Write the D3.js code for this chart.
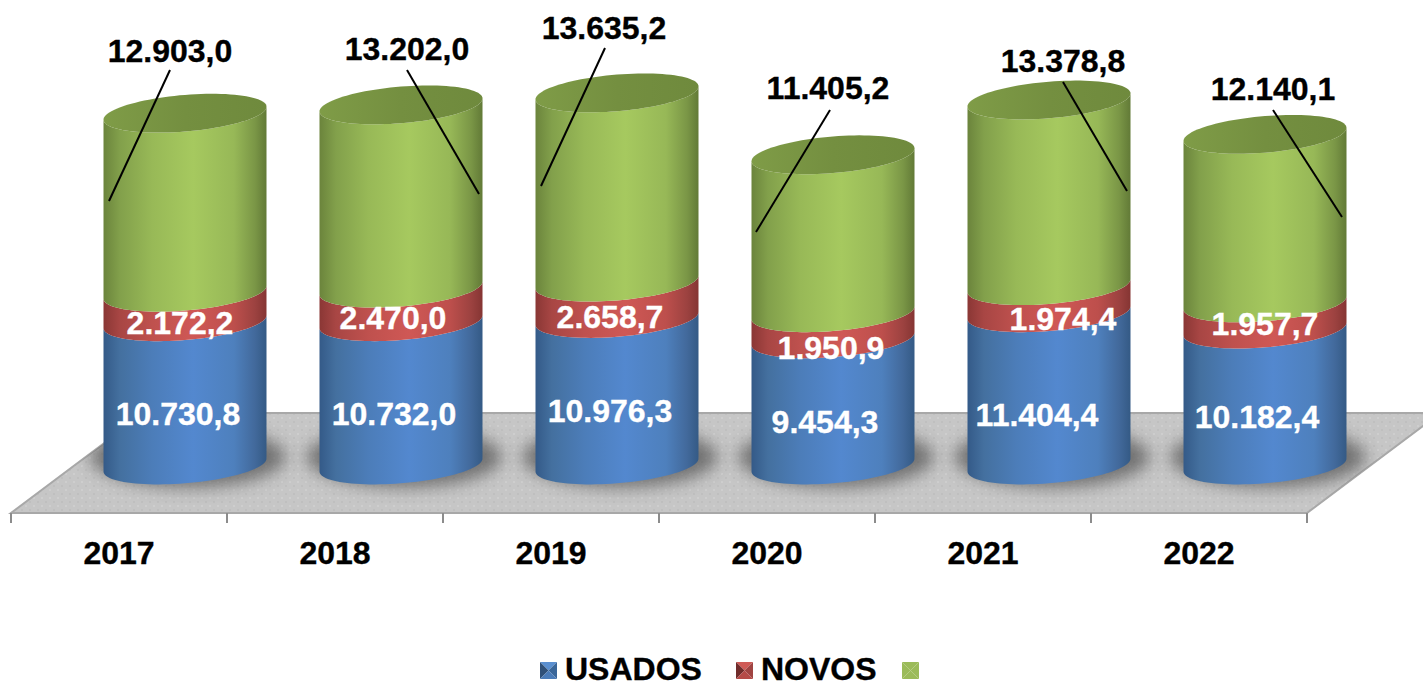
<!DOCTYPE html>
<html><head><meta charset="utf-8">
<script src="https://cdn.jsdelivr.net/npm/d3@7"></script>
<style>html,body{margin:0;background:#fff;overflow:hidden}text{font-family:"Liberation Sans",Arial,sans-serif;font-weight:bold;stroke:currentColor;stroke-width:.35px}</style>
</head><body><svg id="c" width="1423" height="681"></svg>
<script>
const years=["2017","2018","2019","2020","2021","2022"];
const usados=[10730.8,10732.0,10976.3,9454.3,11404.4,10182.4];
const novos=[2172.2,2470.0,2658.7,1950.9,1974.4,1957.7];
const terceira=[12903.0,13202.0,13635.2,11405.2,13378.8,12140.1];
const legendNames=["USADOS","NOVOS",""];
const fmt=v=>{const [a,b]=v.toFixed(1).split(".");return a.replace(/\B(?=(\d{3})+$)/g,".")+","+b;};

// layout
const W=1423,H=681;
const floorFront=513,floorBack=413;
const x=d3.scaleBand().domain(years).range([11,1307]);
const y=d3.scaleLinear().domain([0,12000,30000]).range([465,304.8,55]);
const depth=66,rx=81.5,ry=18.3,tilt=6.5;
const cx=d=>x(d)+x.bandwidth()/2+depth;
const labelBlue=[{x:178,y:413},{x:394,y:413},{x:610,y:410},{x:825,y:421},{x:1037,y:414},{x:1257,y:416}];
const labelRed=[{x:180,y:322},{x:393,y:317},{x:610,y:316},{x:831,y:347},{x:1063,y:318},{x:1265,y:323}];
const labelTop=[{x:170,y:50,x1:170,y1:70,x2:109,y2:201},{x:407,y:48,x1:407,y1:70,x2:479,y2:194},{x:604,y:27,x1:605,y1:48,x2:541,y2:186},{x:828,y:87,x1:830,y1:110,x2:756,y2:232},{x:1063,y:60,x1:1063,y1:82,x2:1127,y2:191},{x:1273,y:88,x1:1273,y1:110,x2:1342,y2:217}];

const svg=d3.select("#c");
const defs=svg.append("defs");
function grad(id,stops){const g=defs.append("linearGradient").attr("id",id).attr("x1",0).attr("x2",1).attr("y1",0).attr("y2",0);
 stops.forEach(s=>g.append("stop").attr("offset",s[0]).attr("stop-color",s[1]));}
grad("gBlue",[[0,"#345a88"],[.1,"#44709f"],[.3,"#4c7db9"],[.55,"#5388cf"],[.8,"#4e80bd"],[.93,"#42699b"],[1,"#345a85"]]);
grad("gRed",[[0,"#8a3735"],[.1,"#a84644"],[.3,"#bf514e"],[.55,"#cf5855"],[.8,"#bd4f4c"],[.93,"#9c4240"],[1,"#853533"]]);
grad("gGreen",[[0,"#6b843c"],[.1,"#82a04b"],[.3,"#98b957"],[.55,"#a6c95f"],[.8,"#97b857"],[.93,"#7a9646"],[1,"#627a37"]]);
grad("gTop",[[0,"#7f9c47"],[.5,"#748f40"],[1,"#6f8a3d"]]);
const seriesFill=["url(#gBlue)","url(#gRed)","url(#gGreen)"];
const p=defs.append("pattern").attr("id","dots").attr("width",8).attr("height",8).attr("patternUnits","userSpaceOnUse");
p.append("rect").attr("width",8).attr("height",8).attr("fill","#c6c6c6");
p.append("circle").attr("cx",2).attr("cy",2).attr("r",.7).attr("fill","#dcdcdc");
p.append("circle").attr("cx",6).attr("cy",6).attr("r",.7).attr("fill","#b4b4b4");
defs.append("filter").attr("id","blur").attr("x","-30%").attr("y","-60%").attr("width","160%").attr("height","220%")
  .append("feGaussianBlur").attr("stdDeviation",8);

// floor
const backDx=(floorFront-floorBack)/.75;
const floorPts=[[x.range()[0],floorFront],[x.range()[1],floorFront],[x.range()[1]+backDx,floorBack],[x.range()[0]+backDx,floorBack]];
const floorD=d3.line()(floorPts)+"Z";
defs.append("clipPath").attr("id","floorClip").append("path").attr("d",floorD);
svg.append("path").attr("d",floorD).attr("fill","url(#dots)").attr("stroke","#a8a8a8").attr("stroke-width",2);
const tickX=[...years.map(d=>x(d)),x.range()[1]];
svg.append("g").selectAll("line").data(tickX).join("line")
 .attr("x1",d=>d).attr("x2",d=>d).attr("y1",floorFront).attr("y2",floorFront+10).attr("stroke","#8c8c8c").attr("stroke-width",2);

// axis labels
const axis=svg.append("g").attr("transform",`translate(0,${floorFront})`).call(d3.axisBottom(x).tickSize(0).tickPadding(0));
axis.select(".domain").remove();
axis.selectAll("text").attr("font-size",32).attr("fill","#000").attr("color","#000").attr("dy",null).attr("y",51);

// shadows
svg.append("g").attr("clip-path","url(#floorClip)").selectAll("ellipse").data(years).join("ellipse")
 .attr("cx",d=>cx(d)+3).attr("cy",y(0)-8).attr("rx",rx+16).attr("ry",ry+12).attr("fill","#404040").attr("opacity",.62).attr("filter","url(#blur)");

// cylinders
const ang=d3.range(0,Math.PI+.001,Math.PI/48);
const front=(c,yy)=>ang.map(t=>[c-rx*Math.cos(t),yy+ry*Math.sin(t)+tilt*Math.cos(t)]);
const back=(c,yy)=>ang.map(t=>[c+rx*Math.cos(t),yy-ry*Math.sin(t)-tilt*Math.cos(t)]);
const line=d3.line();
const stack=d3.stack().keys([0,1,2]).value((i,k)=>[usados,novos,terceira][k][i])(years.map((_,i)=>i));
years.forEach((yr,i)=>{
 const c=cx(yr),g=svg.append("g");
 stack.forEach((s,k)=>{
  const [a,b]=s[i];
  const low=front(c,y(a)),up=front(c,y(b)).reverse();
  g.append("path").attr("d",line(low.concat(up))+"Z").attr("fill",seriesFill[k]);
 });
 const top=y(stack[2][i][1]);
 g.append("path").attr("d",line(front(c,top).concat(back(c,top)))+"Z").attr("fill","url(#gTop)");
});

// labels
const T=svg.append("g");
function lab(sel,data,vals,fill){sel.selectAll(null).data(data).join("text").attr("x",d=>d.x).attr("y",d=>d.y+11.5)
 .attr("text-anchor","middle").attr("fill",fill).attr("color",fill).attr("font-size",32).text((d,i)=>fmt(vals[i]));}
svg.append("g").selectAll("line").data(labelTop).join("line").attr("x1",d=>d.x1).attr("y1",d=>d.y1).attr("x2",d=>d.x2).attr("y2",d=>d.y2).attr("stroke","#000").attr("stroke-width",2);
const T2=svg.append("g");
lab(T2,labelBlue,usados,"#fff");lab(T2,labelRed,novos,"#fff");lab(T2,labelTop,terceira,"#000");

// legend
const legX=[540,736,902];
const legCols=[["#5a8fd0","#3a6699","#2f5078","#4a7bb8"],["#cf5a56","#a04442","#702c2b","#b54b48"],["#9bbb59","#9bbb59","#9bbb59","#9bbb59"]];
const L=svg.append("g").selectAll("g").data(legendNames).join("g").attr("transform",(d,i)=>`translate(${legX[i]},662)`);
L.each(function(d,i){const s=17,m=s/2,c=legCols[i],g=d3.select(this);
 [[[0,0],[s,0],[m,m]],[[s,0],[s,s],[m,m]],[[0,0],[0,s],[m,m]],[[0,s],[s,s],[m,m]]].forEach((t,j)=>g.append("path").attr("d",line(t)+"Z").attr("fill",c[j]));
});
L.append("text").attr("x",25).attr("y",17.5).attr("font-size",32).attr("fill","#000").attr("color","#000").text(d=>d);
</script></body></html>
